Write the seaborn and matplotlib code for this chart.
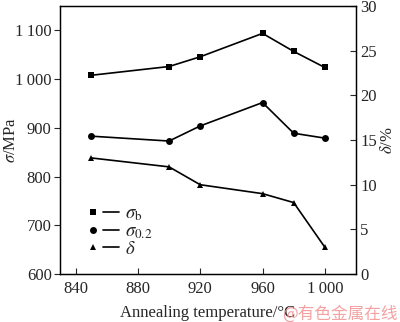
import matplotlib
matplotlib.use("Agg")
import matplotlib.pyplot as plt
import seaborn as sns
import pandas as pd
from matplotlib.lines import Line2D
from matplotlib.legend_handler import HandlerTuple

temps = [850, 900, 920, 960, 980, 1000]
sigma_b = [1008, 1026, 1046, 1094, 1057, 1024]
sigma_02 = [883, 873, 904, 952, 889, 879]
delta = [13.0, 12.0, 10.0, 9.0, 8.0, 3.0]
x_ticks = [840, 880, 920, 960, 1000]
x_labels = ["840", "880", "920", "960", "1\u2009000"]
yl_ticks = [600, 700, 800, 900, 1000, 1100]
yl_labels = ["600", "700", "800", "900", "1\u2009000", "1\u2009100"]
yr_ticks = [0, 5, 10, 15, 20, 25, 30]

sns.set_style("ticks")
plt.rcParams['font.family'] = ['Liberation Serif', 'DejaVu Serif']
plt.rcParams['mathtext.fontset'] = 'stix'

fig = plt.figure(figsize=(4.0, 3.22), dpi=100)
ax = fig.add_axes([0.15, 0.149, 0.74, 0.832])
df = pd.DataFrame({"T": temps, "sb": sigma_b, "s02": sigma_02, "d": delta})

kw = dict(color="black", linewidth=1.2, markersize=5, markeredgewidth=0)
sns.lineplot(data=df, x="T", y="sb", marker="s", ax=ax, **kw)
sns.lineplot(data=df, x="T", y="s02", marker="o", ax=ax, **kw)
ax2 = ax.twinx()
sns.lineplot(data=df, x="T", y="d", marker="^", ax=ax2, **kw)

ax.set_xlim(830, 1020)
ax.set_ylim(600, 1150)
ax2.set_ylim(0, 30)
ax.set_xticks(x_ticks)
ax.set_xticklabels(x_labels)
ax.set_yticks(yl_ticks)
ax.set_yticklabels(yl_labels)
ax2.set_yticks(yr_ticks)

fs = 12
ax.tick_params(axis='x', direction='in', length=4, width=0.8, labelsize=fs, pad=5)
ax.tick_params(axis='y', direction='out', length=4, width=0.8, labelsize=fs, pad=2)
ax2.tick_params(axis='y', direction='in', length=4, width=0.8, labelsize=fs, pad=3)
for a in (ax, ax2):
    for s in a.spines.values():
        s.set_visible(True)
        s.set_linewidth(0.9)
        s.set_color("black")

ax.set_xlabel("Annealing temperature/\u00b0C", fontsize=fs, labelpad=6)
ax.set_ylabel(r"$\sigma$/MPa", fontsize=fs)
ax.yaxis.set_label_coords(-0.14, 0.5)
ax2.set_ylabel(r"$\delta$/%", fontsize=fs, labelpad=2)

def pair(m):
    return (Line2D([], [], marker=m, color="black", linestyle="None", markersize=5, markeredgewidth=0),
            Line2D([], [], color="black", linewidth=1.2))

handles = [pair("s"), pair("o"), pair("^")]
labels = [r"$\sigma_{\rm b}$", r"$\sigma_{0.2}$", r"$\delta$"]
ax.legend(handles, labels, handler_map={tuple: HandlerTuple(ndivide=None, pad=0.1)},
          loc="upper left", bbox_to_anchor=(0.06, 0.285), frameon=False, fontsize=13.5,
          handlelength=1.8, handletextpad=0.3, labelspacing=0.0, borderaxespad=0)

fig.text(0.705, 0.01, "@有色金属在线", fontsize=12, color="#f28a8a", alpha=0.8,
         family=['Noto Sans CJK SC', 'DejaVu Sans'])

fig.savefig("out.png", dpi=100)
